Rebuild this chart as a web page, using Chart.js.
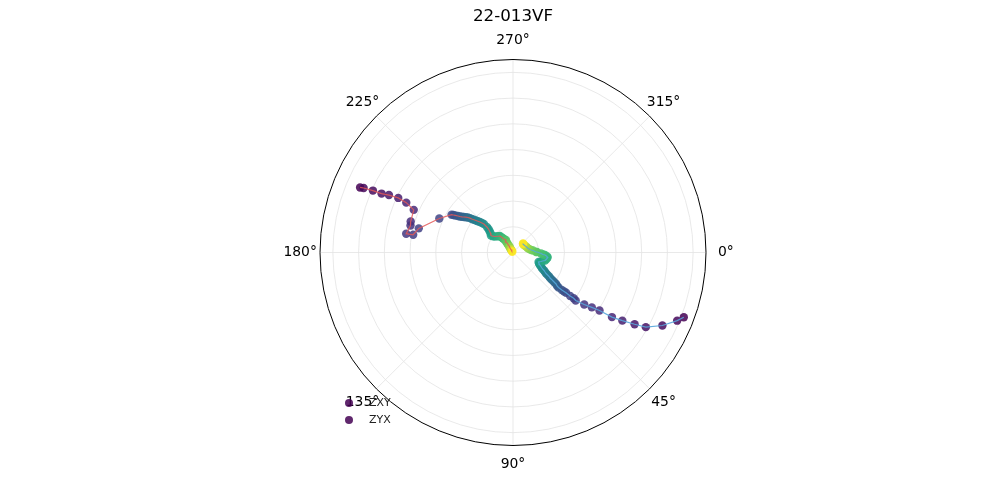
<!DOCTYPE html>
<html>
<head>
<meta charset="utf-8">
<script src="https://cdn.jsdelivr.net/npm/chart.js@4.4.1/dist/chart.umd.min.js"></script>
<style>
  html, body { margin: 0; padding: 0; background: #fff; }
  #wrap { position: relative; width: 1000px; height: 500px; }
  .legend-item { position: absolute; left: 345px; font: 11px "DejaVu Sans", sans-serif; color: #222; line-height: 14px; }
  .legend-dot { position: absolute; left: 0; top: 3px; width: 8px; height: 8px; border-radius: 50%; background: rgba(68,1,84,0.85); }
  .legend-item span.txt { position: absolute; left: 24px; top: 0; white-space: nowrap; }
</style>
</head>
<body>
<div id="wrap">
  <canvas id="polarChart"></canvas>
  <div id="legend"></div>
</div>
<script>
/* polar trajectory — theta in degrees (clockwise from east), r in plot units */

const TITLE = '22-013VF';
const SERIES_NAMES = ['ZXY', 'ZYX'];

const THETA_ZXY = [203.1, 203.4, 203.9, 204.2, 204.9, 205.5, 205.1, 203.3, 196.9, 194.8,
  190.0, 190.1, 194.4, 204.8, 211.7, 212.2, 212.8, 213.6, 214.2, 215.0,
  215.9, 216.9, 217.9, 218.6, 219.2, 220.0, 220.9, 221.8, 222.7, 223.6,
  224.5, 224.4, 223.8, 222.5, 220.9, 217.7, 219.2, 221.6, 226.3, 229.3,
  231.8, 233.7, 234.5, 236.3, 240.8, 236.9, 237.7, 238.6, 237.9, 239.7,
  237.5, 234.5, 236.3, 233.0, 236.0, 230.0];
const R_ZXY = [1.292, 1.265, 1.191, 1.120, 1.063, 0.988, 0.916, 0.840, 0.831, 0.824,
  0.843, 0.788, 0.756, 0.631, 0.561, 0.548, 0.533, 0.514, 0.499, 0.485,
  0.472, 0.458, 0.444, 0.429, 0.413, 0.397, 0.381, 0.366, 0.350, 0.333,
  0.317, 0.284, 0.264, 0.248, 0.232, 0.217, 0.201, 0.188, 0.175, 0.167,
  0.164, 0.145, 0.134, 0.126, 0.112, 0.107, 0.088, 0.082, 0.069, 0.054,
  0.051, 0.034, 0.028, 0.019, 0.014, 0.008];

const THETA_ZYX = [20.8, 22.6, 26.1, 29.4, 30.6, 32.0, 33.2, 33.9, 34.9, 36.2,
  37.5, 37.1, 37.4, 37.2, 37.4, 37.6, 37.6, 37.3, 36.2, 35.9,
  35.5, 35.0, 34.6, 33.7, 33.1, 32.5, 31.4, 30.1, 29.2, 27.8,
  26.1, 24.4, 22.9, 20.4, 17.8, 16.1, 14.0, 11.0, 8.2, 6.7,
  4.5, 3.8, 2.0, 358.8, 358.8, 354.3, 352.1, 347.7, 342.8, 335.2,
  328.7, 322.7, 319.6, 318.0];
const R_ZYX = [1.420, 1.382, 1.293, 1.185, 1.098, 1.002, 0.919, 0.810, 0.747, 0.686,
  0.614, 0.591, 0.559, 0.518, 0.500, 0.479, 0.447, 0.431, 0.415, 0.399,
  0.383, 0.366, 0.350, 0.337, 0.321, 0.305, 0.292, 0.279, 0.263, 0.251,
  0.239, 0.227, 0.220, 0.212, 0.229, 0.239, 0.257, 0.266, 0.272, 0.267,
  0.250, 0.234, 0.218, 0.187, 0.179, 0.157, 0.142, 0.128, 0.118, 0.112,
  0.105, 0.103, 0.102, 0.105];

const ANGLE_TICKS  = [0, 45, 90, 135, 180, 225, 270, 315];
const ANGLE_LABELS = ['0°', '45°', '90°', '135°', '180°', '225°', '270°', '315°'];
const R_TICKS = [0.2, 0.4, 0.6, 0.8, 1.0, 1.2, 1.4];
const R_MAX = 1.5;

const VIRIDIS = ['#440154', '#482878', '#3e4989', '#31688e', '#26828e', '#1f9e89', '#35b779', '#6ece58', '#fde725'];

function hexRgb(h) {
  return [1, 3, 5].map(i => parseInt(h.slice(i, i + 2), 16));
}

function viridis(t, a) {
  const p = Math.max(0, Math.min(1, t)) * (VIRIDIS.length - 1);
  const i = Math.min(Math.floor(p), VIRIDIS.length - 2);
  const f = p - i;
  const c0 = hexRgb(VIRIDIS[i]), c1 = hexRgb(VIRIDIS[i + 1]);
  const c = c0.map((v, k) => Math.round(v + (c1[k] - v) * f));
  return `rgba(${c[0]},${c[1]},${c[2]},${a})`;
}

const toXY = (thetas, rs) => thetas.map((t, i) => {
  const a = t * Math.PI / 180;
  return { x: rs[i] * Math.cos(a), y: rs[i] * Math.sin(a) };
});

const ptsZXY = toXY(THETA_ZXY, R_ZXY);
const ptsZYX = toXY(THETA_ZYX, R_ZYX);
const colorsFor = n => Array.from({ length: n }, (_, i) => viridis(i / (n - 1), 0.85));

// ── grid, frame and labels ─────────────────────
const polarFrame = {
  id: 'polarFrame',
  beforeDatasetsDraw(chart) {
    const { ctx, scales: { x, y } } = chart;
    const cx = x.getPixelForValue(0), cy = y.getPixelForValue(0);
    const px = r => x.getPixelForValue(r) - cx;
    ctx.save();
    ctx.strokeStyle = '#e3e3e3';
    ctx.lineWidth = 0.8;
    R_TICKS.forEach(r => {
      ctx.beginPath();
      ctx.arc(cx, cy, px(r), 0, Math.PI * 2);
      ctx.stroke();
    });
    ANGLE_TICKS.forEach(t => {
      const a = t * Math.PI / 180;
      ctx.beginPath();
      ctx.moveTo(cx, cy);
      ctx.lineTo(x.getPixelForValue(R_MAX * Math.cos(a)), y.getPixelForValue(R_MAX * Math.sin(a)));
      ctx.stroke();
    });
    ctx.restore();
  },
  afterDatasetsDraw(chart) {
    const { ctx, scales: { x, y } } = chart;
    const cx = x.getPixelForValue(0), cy = y.getPixelForValue(0);
    ctx.save();
    ctx.strokeStyle = '#000';
    ctx.lineWidth = 1;
    ctx.beginPath();
    ctx.arc(cx, cy, x.getPixelForValue(R_MAX) - cx, 0, Math.PI * 2);
    ctx.stroke();

    ctx.fillStyle = '#000';
    ctx.textAlign = 'center';
    ctx.textBaseline = 'middle';
    ctx.font = '13.9px "DejaVu Sans", sans-serif';
    const rl = R_MAX * 1.103;
    ANGLE_TICKS.forEach((t, i) => {
      const a = t * Math.PI / 180;
      ctx.fillText(ANGLE_LABELS[i], x.getPixelForValue(rl * Math.cos(a)), y.getPixelForValue(rl * Math.sin(a)));
    });

    ctx.font = '16.7px "DejaVu Sans", sans-serif';
    ctx.fillText(TITLE, cx, 17);
    ctx.restore();
  },
};

// ── legend (html) ──────────────────────────────
document.getElementById('legend').innerHTML = SERIES_NAMES
  .map((l, i) => `<div class="legend-item" style="top:${396 + i * 17}px"><span class="legend-dot"></span><span class="txt">${l}</span></div>`)
  .join('');

new Chart(document.getElementById('polarChart'), {
  type: 'scatter',
  data: {
    datasets: [
      { label: 'ZXY line', data: ptsZXY, showLine: true, pointRadius: 0, borderColor: 'rgba(228,88,88,0.85)', borderWidth: 1.2, order: 0 },
      { label: 'ZYX line', data: ptsZYX, showLine: true, pointRadius: 0, borderColor: 'rgba(86,166,220,0.9)', borderWidth: 1.2, order: 0 },
      { label: SERIES_NAMES[0], data: ptsZXY, pointRadius: 4.2, borderWidth: 0, backgroundColor: colorsFor(ptsZXY.length), order: 1 },
      { label: SERIES_NAMES[1], data: ptsZYX, pointRadius: 4.2, borderWidth: 0, backgroundColor: colorsFor(ptsZYX.length), order: 1 },
    ],
  },
  options: {
    responsive: true,
    maintainAspectRatio: false,
    animation: false,
    layout: { padding: { left: 320, right: 294, top: 60, bottom: 55 } },
    plugins: {
      legend: { display: false },
      title: { display: false },
      tooltip: { enabled: false },
    },
    scales: {
      x: { type: 'linear', min: -R_MAX, max: R_MAX, display: false },
      y: { type: 'linear', min: -R_MAX, max: R_MAX, reverse: true, display: false },
    },
  },
  plugins: [polarFrame],
});
</script>
</body>
</html>
